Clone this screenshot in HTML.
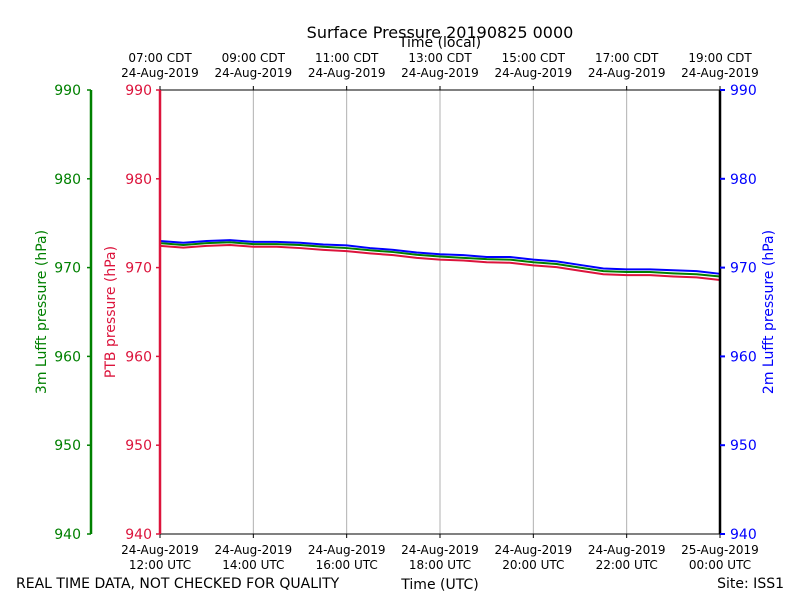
<!DOCTYPE html>
<html><head><meta charset="utf-8"><style>
body{margin:0;background:#fff;font-family:"Liberation Sans","DejaVu Sans",sans-serif}
svg text{font-family:"DejaVu Sans","Liberation Sans",sans-serif}
</style></head><body>
<svg id="c" width="800" height="600" xmlns="http://www.w3.org/2000/svg"></svg>
<script>
const hours=[0,0.5,1,1.5,2,2.5,3,3.5,4,4.5,5,5.5,6,6.5,7,7.5,8,8.5,9,9.5,10,10.5,11,11.5,12];
const blue2m=[973.0,972.8,973.0,973.1,972.9,972.9,972.8,972.6,972.5,972.2,972.0,971.7,971.5,971.4,971.2,971.2,970.9,970.7,970.3,969.9,969.8,969.8,969.7,969.6,969.3];
const green3m=[972.75,972.55,972.75,972.85,972.65,972.65,972.55,972.35,972.2,971.95,971.75,971.45,971.25,971.1,970.95,970.9,970.6,970.4,970.0,969.6,969.5,969.5,969.35,969.25,969.0];
const redPtb=[972.45,972.25,972.45,972.55,972.35,972.35,972.2,972.0,971.85,971.6,971.4,971.1,970.9,970.8,970.6,970.55,970.25,970.05,969.65,969.25,969.15,969.15,969.0,968.9,968.6];
const yTicks=[940,950,960,970,980,990];
const bottomLabels=[["24-Aug-2019","12:00 UTC"],["24-Aug-2019","14:00 UTC"],["24-Aug-2019","16:00 UTC"],["24-Aug-2019","18:00 UTC"],["24-Aug-2019","20:00 UTC"],["24-Aug-2019","22:00 UTC"],["25-Aug-2019","00:00 UTC"]];
const topLabels=[["07:00 CDT","24-Aug-2019"],["09:00 CDT","24-Aug-2019"],["11:00 CDT","24-Aug-2019"],["13:00 CDT","24-Aug-2019"],["15:00 CDT","24-Aug-2019"],["17:00 CDT","24-Aug-2019"],["19:00 CDT","24-Aug-2019"]];
const L=160,R=720,T=90,B=534;
const X=h=>L+(R-L)*h/12, Y=v=>B-(B-T)*(v-940)/50;
const s=document.getElementById('c'),NS='http://www.w3.org/2000/svg';
function el(t,a,txt){const e=document.createElementNS(NS,t);for(const k in a)e.setAttribute(k,a[k]);if(txt!=null)e.textContent=txt;s.appendChild(e);return e;}
// grid
bottomLabels.forEach((b,i)=>{const x=X(i*2);
 if(i>0&&i<6){const g=el('line',{x1:x,x2:x,y1:T,y2:B,stroke:'#b0b0b0','stroke-width':1});
 }
 el('line',{x1:x,x2:x,y1:B,y2:B+4,stroke:'#000'});el('line',{x1:x,x2:x,y1:T,y2:T-4,stroke:'#000'});
 const t1=el('text',{x:x,y:554,'font-size':12,'text-anchor':'middle'},b[0]);
 
 el('text',{x:x,y:569,'font-size':12,'text-anchor':'middle'},b[1]);
 const t2=el('text',{x:x,y:62,'font-size':12,'text-anchor':'middle'},topLabels[i][0]);
 
 el('text',{x:x,y:77,'font-size':12,'text-anchor':'middle'},topLabels[i][1]);
});
function line(arr,color,name){const p=el('polyline',{points:arr.map((v,i)=>X(hours[i])+','+Y(v)).join(' '),fill:'none',stroke:color,'stroke-width':2});
 }
line(redPtb,'#dc143c','ptb-series');line(green3m,'#008000','lufft-3m-series');line(blue2m,'#0000ff','lufft-2m-series');
el('line',{x1:L,x2:R,y1:T,y2:T,stroke:'#000'});el('line',{x1:L,x2:R,y1:B,y2:B,stroke:'#000'});
el('line',{x1:L,x2:L,y1:T,y2:B,stroke:'#dc143c','stroke-width':2.5});
el('line',{x1:R,x2:R,y1:T,y2:B,stroke:'#000','stroke-width':2.5});
el('line',{x1:91,x2:91,y1:T,y2:B,stroke:'#008000','stroke-width':2.5});
yTicks.forEach(v=>{const y=Y(v);
 el('line',{x1:L-4,x2:L,y1:y,y2:y,stroke:'#dc143c','stroke-width':1.5});
 const a=el('text',{x:L-8,y:y+5,'font-size':14,'text-anchor':'end',fill:'#dc143c'},v);
 
 el('line',{x1:87,x2:91,y1:y,y2:y,stroke:'#008000','stroke-width':1.5});
 const b=el('text',{x:81,y:y+5,'font-size':14,'text-anchor':'end',fill:'#008000'},v);
 
 el('line',{x1:R,x2:R+5,y1:y,y2:y,stroke:'#0000ff','stroke-width':2});
 const c=el('text',{x:730,y:y+5,'font-size':14,fill:'#0000ff'},v);
 
});
const tx=[['text',{x:440,y:38,'font-size':16,'text-anchor':'middle'},'Surface Pressure 20190825 0000','chart-title'],
['text',{x:440,y:47,'font-size':14,'text-anchor':'middle'},'Time (local)','top-axis-title'],
['text',{x:440,y:589,'font-size':14,'text-anchor':'middle'},'Time (UTC)','x-axis-title'],
['text',{x:16,y:588,'font-size':14},'REAL TIME DATA, NOT CHECKED FOR QUALITY','quality-note'],
['text',{x:784,y:588,'font-size':14,'text-anchor':'end'},'Site: ISS1','site-label'],
['text',{x:0,y:0,'font-size':14,'text-anchor':'middle',fill:'#008000',transform:'translate(46,312) rotate(-90)'},'3m Lufft pressure (hPa)','lufft3m-axis-title'],
['text',{x:0,y:0,'font-size':14,'text-anchor':'middle',fill:'#dc143c',transform:'translate(115,312) rotate(-90)'},'PTB pressure (hPa)','ptb-axis-title'],
['text',{x:0,y:0,'font-size':14,'text-anchor':'middle',fill:'#0000ff',transform:'translate(773,312) rotate(-90)'},'2m Lufft pressure (hPa)','lufft2m-axis-title']];
tx.forEach(t=>{const e=el(t[0],t[1],t[2]);});
</script></body></html>
